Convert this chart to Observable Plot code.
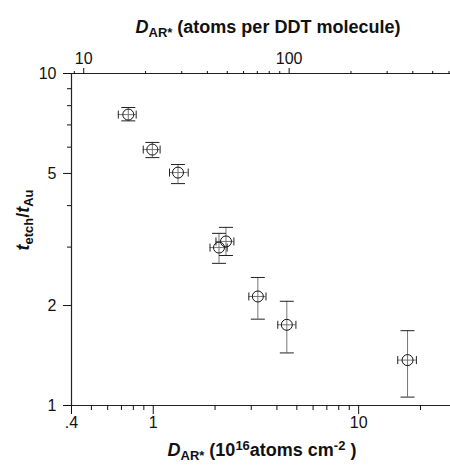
<!DOCTYPE html>
<html>
<head>
<meta charset="utf-8">
<script src="https://cdn.jsdelivr.net/npm/d3@7"></script>
<script src="https://cdn.jsdelivr.net/npm/@observablehq/plot@0.6"></script>
<style>
  html, body { margin: 0; padding: 0; background: #fff; }
  #chart svg { display: block; }
</style>
</head>
<body>
<div id="chart"></div>
<script>
// Data
const xVal = [0.756, 0.99, 1.32, 2.09, 2.26, 3.23, 4.47, 17.3];
const yVal = [7.52, 5.90, 5.03, 2.99, 3.12, 2.13, 1.75, 1.37];
const xLo  = [0.676, 0.894, 1.20, 1.89, 2.02, 2.92, 4.04, 15.5];
const xHi  = [0.826, 1.08, 1.48, 2.29, 2.47, 3.54, 4.95, 19.1];
const yLo  = [7.2, 5.58, 4.66, 2.68, 2.83, 1.82, 1.44, 1.06];
const yHi  = [7.9, 6.2, 5.32, 3.30, 3.44, 2.43, 2.06, 1.68];

// Axis ticks
const bottomMajor = [0.4, 1, 10];
const bottomLabels = [".4", "1", "10"];
const bottomMinor = [0.5, 0.6, 0.7, 0.8, 0.9, 2, 3, 4, 5, 6, 7, 8, 9, 20];
const leftMajor = [1, 2, 5, 10];
const leftLabels = ["1", "2", "5", "10"];
const leftMinor = [3, 4, 6, 7, 8, 9];
const topFactor = 21.8; // atoms per DDT molecule per 10^16 atoms cm^-2
const topMajor = [10, 100];
const topLabels = ["10", "100"];
const topMinor = [9, 20, 30, 40, 50, 60, 70, 80, 90, 200, 300, 400, 500, 600];

const data = xVal.map((x, i) => ({x, y: yVal[i], xlo: xLo[i], xhi: xHi[i], ylo: yLo[i], yhi: yHi[i]}));

const hCap = { draw(ctx, size) { const r = Math.sqrt(size / Math.PI); ctx.moveTo(-r, 0); ctx.lineTo(r, 0); } };
const vCap = { draw(ctx, size) { const r = Math.sqrt(size / Math.PI); ctx.moveTo(0, -r); ctx.lineTo(0, r); } };

const font = "Liberation Sans, Arial, Helvetica, sans-serif";

const chart = Plot.plot({
  width: 450,
  height: 465,
  marginLeft: 71,
  marginRight: 0,
  marginTop: 73,
  marginBottom: 60,
  style: { fontFamily: font, fontSize: "16px", color: "#111", background: "#fff" },
  x: { type: "log", domain: [0.4, 28] },
  y: { type: "log", domain: [1, 10] },
  marks: [
    // axis lines
    Plot.ruleY([1, 10], { stroke: "#222", strokeWidth: 1.2 }),
    Plot.ruleX([0.4], { stroke: "#222", strokeWidth: 1.2 }),
    // bottom axis ticks
    Plot.axisX(bottomMinor, { anchor: "bottom", tickSize: 5, tickFormat: () => "", label: null }),
    Plot.axisX(bottomMajor, { anchor: "bottom", tickSize: 9, tickFormat: () => "", label: null }),
    Plot.text(bottomMajor, { x: d => d, frameAnchor: "bottom", dy: 22, text: (d, i) => bottomLabels[i], fontSize: 16 }),
    // left axis ticks
    Plot.axisY(leftMinor, { anchor: "left", tickSize: 4, tickFormat: () => "", label: null }),
    Plot.axisY(leftMajor, { anchor: "left", tickSize: 8, tickFormat: () => "", label: null }),
    Plot.text(leftMajor, { y: d => d, frameAnchor: "left", dx: -15, textAnchor: "end", text: (d, i) => leftLabels[i], fontSize: 16 }),
    // top axis (secondary scale: atoms per DDT molecule)
    Plot.axisX(topMinor.map(v => v / topFactor), { anchor: "top", tickSize: 3, tickFormat: () => "", label: null }),
    Plot.axisX(topMajor.map(v => v / topFactor), { anchor: "top", tickSize: 6, tickFormat: () => "", label: null }),
    Plot.text(topMajor, { x: d => d / topFactor, frameAnchor: "top", dy: -21, text: (d, i) => topLabels[i], fontSize: 16 }),
    // error bars
    Plot.ruleX(data, { x: "x", y1: "ylo", y2: "yhi", stroke: "#666", strokeWidth: 0.9 }),
    Plot.ruleY(data, { y: "y", x1: "xlo", x2: "xhi", stroke: "#666", strokeWidth: 0.9 }),
    Plot.dot(data, { x: "x", y: "ylo", symbol: hCap, r: 7, stroke: "#222", strokeWidth: 1, fill: "none" }),
    Plot.dot(data, { x: "x", y: "yhi", symbol: hCap, r: 7, stroke: "#222", strokeWidth: 1, fill: "none" }),
    Plot.dot(data, { x: "xlo", y: "y", symbol: vCap, r: 4, stroke: "#222", strokeWidth: 1, fill: "none" }),
    Plot.dot(data, { x: "xhi", y: "y", symbol: vCap, r: 4, stroke: "#222", strokeWidth: 1, fill: "none" }),
    // points
    Plot.dot(data, { x: "x", y: "y", r: 5.5, stroke: "#111", strokeWidth: 1, fill: "none" })
  ]
});

document.getElementById("chart").appendChild(chart);

// Axis titles with sub/superscripts
const svg = d3.select(chart);
function title(x, y, rotate, parts, size) {
  const t = svg.append("text")
    .attr("transform", `translate(${x},${y}) rotate(${rotate})`)
    .attr("text-anchor", "middle")
    .attr("font-family", font)
    .attr("font-weight", "bold")
    .attr("font-size", size)
    .attr("fill", "#111");
  let shift = 0;
  for (const p of parts) {
    const s = t.append("tspan").text(p.t);
    const target = p.sub ? 4 : p.sup ? -6 : 0;
    s.attr("dy", target - shift);
    shift = target;
    if (p.sub || p.sup) s.attr("font-size", size * 0.72);
    if (p.i) s.attr("font-style", "italic");
  }
}
title(268, 33, 0, [{t: "D", i: true}, {t: "AR*", sub: true}, {t: " (atoms per DDT molecule)"}], 18);
title(262, 456, 0, [{t: "D", i: true}, {t: "AR*", sub: true}, {t: " (10"}, {t: "16", sup: true}, {t: "atoms cm"}, {t: "-2", sup: true}, {t: " )"}], 18);
title(29, 220, -90, [{t: "t", i: true}, {t: "etch", sub: true}, {t: "/"}, {t: "t", i: true}, {t: "Au", sub: true}], 18);
</script>
</body>
</html>
